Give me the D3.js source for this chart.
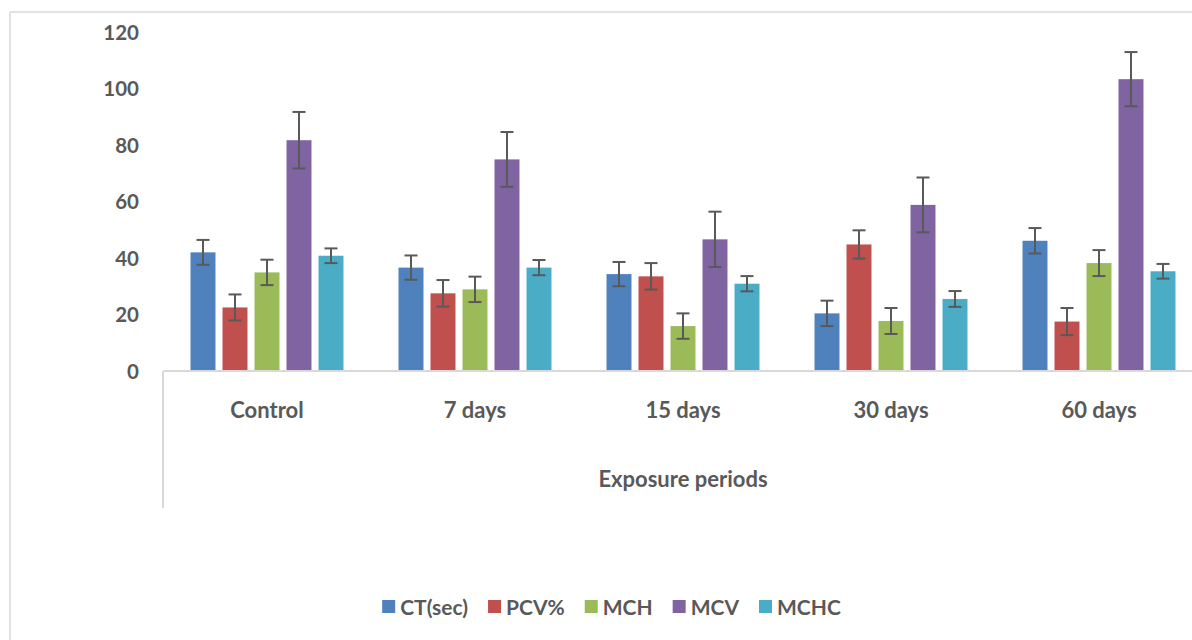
<!DOCTYPE html>
<html>
<head>
<meta charset="utf-8">
<script src="https://cdn.jsdelivr.net/npm/d3@7/dist/d3.min.js"></script>
<style>
  html, body { margin: 0; padding: 0; background: #fff; }
  svg { display: block; }
  text { font-family: Lato, "Open Sans", sans-serif; font-weight: bold; fill: #595959; }
</style>
</head>
<body>
<svg id="chart" width="1192" height="640"></svg>
<script>
const categories = ["Control", "7 days", "15 days", "30 days", "60 days"];
const seriesNames = ["CT(sec)", "PCV%", "MCH", "MCV", "MCHC"];
const seriesColors = ["#4F81BD", "#C0504D", "#9BBB59", "#8064A2", "#4BACC6"];
const ctValues   = [42.0, 36.6, 34.3, 20.4, 46.1];
const pcvValues  = [22.5, 27.5, 33.5, 44.8, 17.5];
const mchValues  = [34.9, 28.9, 15.9, 17.7, 38.2];
const mcvValues  = [81.7, 74.9, 46.6, 58.8, 103.3];
const mchcValues = [40.8, 36.6, 30.9, 25.5, 35.3];
const ctErr   = [4.4, 4.3, 4.3, 4.5, 4.5];
const pcvErr  = [4.6, 4.7, 4.7, 5.0, 4.8];
const mchErr  = [4.5, 4.5, 4.5, 4.6, 4.6];
const mcvErr  = [10.0, 9.7, 9.8, 9.7, 9.6];
const mchcErr = [2.6, 2.7, 2.7, 2.8, 2.6];
const yTicks = [0, 20, 40, 60, 80, 100, 120];
const xTitle = "Exposure periods";

const allValues = [ctValues, pcvValues, mchValues, mcvValues, mchcValues];
const allErrs = [ctErr, pcvErr, mchErr, mcvErr, mchcErr];

const svg = d3.select("#chart");
const grid = "#d9d9d9";

// outer frame (top and left edges visible)
svg.append("line").attr("x1", 10).attr("x2", 1192).attr("y1", 12).attr("y2", 12)
  .attr("stroke", grid).attr("stroke-width", 1.5);
svg.append("line").attr("x1", 10).attr("x2", 10).attr("y1", 12).attr("y2", 640)
  .attr("stroke", grid).attr("stroke-width", 1.5);

const x0 = d3.scaleBand().domain(categories).range([163, 1203]).paddingInner(0).paddingOuter(0);
const x1 = d3.scaleBand().domain(seriesNames).range([0, x0.bandwidth()]).paddingInner(0.22).paddingOuter(0.86);
const y = d3.scaleLinear().domain([0, 120]).range([371, 32]);

// Y axis labels
const yAxis = d3.axisLeft(y).tickValues(yTicks).tickSize(0).tickPadding(0);
const gy = svg.append("g").attr("transform", "translate(139,0)").call(yAxis);
gy.select(".domain").remove();
gy.selectAll("text").attr("font-size", 20.5).attr("dy", "0.36em")
  .style("font-family", "Lato, sans-serif").style("font-weight", "bold").attr("fill", "#595959");

// bars
const rows = [];
categories.forEach((c, ci) => {
  seriesNames.forEach((s, si) => {
    rows.push({ cat: c, series: s, color: seriesColors[si], v: allValues[si][ci], e: allErrs[si][ci] });
  });
});

svg.append("g").selectAll("rect").data(rows).join("rect")
  .attr("x", d => x0(d.cat) + x1(d.series))
  .attr("width", x1.bandwidth())
  .attr("y", d => y(d.v))
  .attr("height", d => y(0) - y(d.v))
  .attr("fill", d => d.color);

// error bars
const eg = svg.append("g").attr("stroke", "#595959").attr("stroke-width", 2);
rows.forEach(d => {
  const cx = x0(d.cat) + x1(d.series) + x1.bandwidth() / 2;
  const top = y(d.v + d.e), bot = y(d.v - d.e);
  eg.append("line").attr("x1", cx).attr("x2", cx).attr("y1", top).attr("y2", bot);
  eg.append("line").attr("x1", cx - 6.5).attr("x2", cx + 6.5).attr("y1", top).attr("y2", top);
  eg.append("line").attr("x1", cx - 6.5).attr("x2", cx + 6.5).attr("y1", bot).attr("y2", bot);
});

// X axis
svg.append("line").attr("x1", 163).attr("x2", 1192).attr("y1", 371).attr("y2", 371)
  .attr("stroke", grid).attr("stroke-width", 2);
svg.append("line").attr("x1", 163).attr("x2", 163).attr("y1", 371).attr("y2", 508)
  .attr("stroke", grid).attr("stroke-width", 2);

const xAxis = d3.axisBottom(x0).tickSize(0);
const gx = svg.append("g").attr("transform", "translate(0,371)").call(xAxis);
gx.select(".domain").remove();
gx.selectAll("text").attr("y", 39).attr("dy", "0.36em").attr("font-size", 22)
  .style("font-family", "Lato, sans-serif").style("font-weight", "bold").attr("fill", "#595959");

svg.append("text").attr("x", 683).attr("y", 479).attr("dy", "0.36em")
  .attr("text-anchor", "middle").attr("font-size", 22).text(xTitle);

// legend
const lg = svg.append("g");
let lx = 0;
const gap = 20;
seriesNames.forEach((s, i) => {
  const item = lg.append("g").attr("transform", `translate(${lx},0)`);
  item.append("rect").attr("x", 0).attr("y", -7).attr("width", 13).attr("height", 13).attr("fill", seriesColors[i]);
  const t = item.append("text").attr("x", 18).attr("y", 0).attr("dy", "0.36em").attr("font-size", 21).text(s);
  lx += 18 + t.node().getComputedTextLength() + gap;
});
const totalW = lx - gap;
lg.attr("transform", `translate(${611.5 - totalW / 2},607)`);
</script>
</body>
</html>
